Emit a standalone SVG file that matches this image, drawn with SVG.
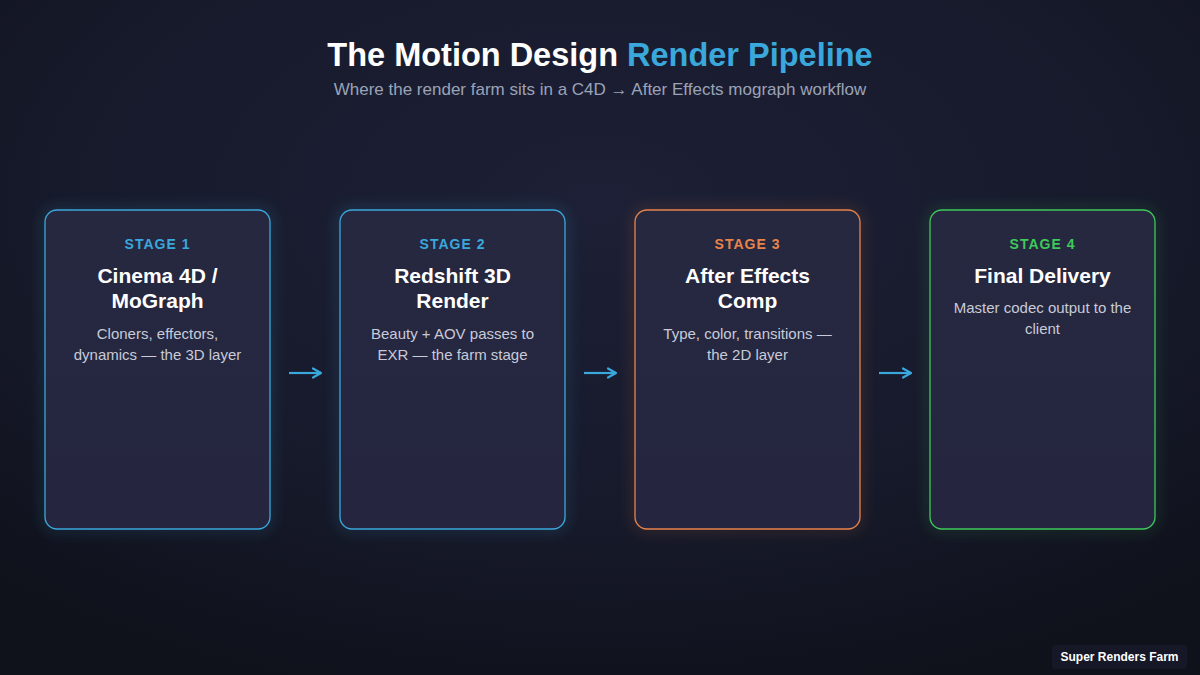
<svg xmlns="http://www.w3.org/2000/svg" width="1200" height="675" viewBox="0 0 1200 675">
  <defs>
    <radialGradient id="bg" cx="50%" cy="30%" r="75%">
      <stop offset="0" stop-color="#1d2036"/>
      <stop offset="0.6" stop-color="#171a2b"/>
      <stop offset="1" stop-color="#0f111b"/>
    </radialGradient>
    <linearGradient id="card" x1="0" y1="0" x2="0" y2="1">
      <stop offset="0" stop-color="#262840"/>
      <stop offset="1" stop-color="#25253f"/>
    </linearGradient>
    <filter id="glow" x="-20%" y="-20%" width="140%" height="140%">
      <feGaussianBlur stdDeviation="7"/>
    </filter>
    <marker id="ah" viewBox="0 0 12 12" refX="10" refY="6" markerWidth="12" markerHeight="12" markerUnits="userSpaceOnUse" orient="auto">
      <path d="M2,1.5 L10,6 L2,10.5" fill="none" stroke="#3aa8dc" stroke-width="2.2" stroke-linecap="round" stroke-linejoin="round"/>
    </marker>
    <style>
      .title{font-family:"Liberation Sans",Arial,sans-serif;font-weight:bold;font-size:32.5px;text-anchor:middle}
      .sub{font-family:"Liberation Sans",Arial,sans-serif;font-size:17px;fill:#9aa3b8;text-anchor:middle}
      .card{fill:url(#card);stroke-width:1.3}
      .stage{font-family:"Liberation Sans",Arial,sans-serif;font-weight:bold;font-size:14px;letter-spacing:1px;text-anchor:middle}
      .name{font-family:"Liberation Sans",Arial,sans-serif;font-weight:bold;font-size:21px;fill:#ffffff;text-anchor:middle}
      .desc{font-family:"Liberation Sans",Arial,sans-serif;font-size:15px;fill:#c8cbd8;text-anchor:middle}
      .conn{stroke:#3aa8dc;stroke-width:2.2;fill:none}
    </style>
  </defs>
  <rect width="1200" height="675" fill="url(#bg)"/>

  <g id="header">
    <text class="title" x="600" y="66"><tspan fill="#ffffff">The Motion Design </tspan><tspan fill="#3aa8dc">Render Pipeline</tspan></text>
    <text class="sub" x="600" y="95">Where the render farm sits in a C4D → After Effects mograph workflow</text>
  </g>

  <g id="stage1">
    <rect x="45" y="210" width="225" height="319" rx="12" fill="none" stroke="#3aa8dc" stroke-width="4" opacity="0.35" filter="url(#glow)"/>
    <rect class="card" x="45" y="210" width="225" height="319" rx="12" stroke="#3aa8dc"/>
    <text class="stage" x="157.5" y="249" fill="#3aa8dc">STAGE 1</text>
    <text class="name" x="157.5" y="283">Cinema 4D /</text>
    <text class="name" x="157.5" y="308">MoGraph</text>
    <text class="desc" x="157.5" y="339">Cloners, effectors,</text>
    <text class="desc" x="157.5" y="360">dynamics — the 3D layer</text>
  </g>

  <g id="stage2">
    <rect x="340" y="210" width="225" height="319" rx="12" fill="none" stroke="#3aa8dc" stroke-width="4" opacity="0.35" filter="url(#glow)"/>
    <rect class="card" x="340" y="210" width="225" height="319" rx="12" stroke="#3aa8dc"/>
    <text class="stage" x="452.5" y="249" fill="#3aa8dc">STAGE 2</text>
    <text class="name" x="452.5" y="283">Redshift 3D</text>
    <text class="name" x="452.5" y="308">Render</text>
    <text class="desc" x="452.5" y="339">Beauty + AOV passes to</text>
    <text class="desc" x="452.5" y="360">EXR — the farm stage</text>
  </g>

  <g id="stage3">
    <rect x="635" y="210" width="225" height="319" rx="12" fill="none" stroke="#e8834a" stroke-width="4" opacity="0.3" filter="url(#glow)"/>
    <rect class="card" x="635" y="210" width="225" height="319" rx="12" stroke="#e8834a"/>
    <text class="stage" x="747.5" y="249" fill="#e8834a">STAGE 3</text>
    <text class="name" x="747.5" y="283">After Effects</text>
    <text class="name" x="747.5" y="308">Comp</text>
    <text class="desc" x="747.5" y="339">Type, color, transitions —</text>
    <text class="desc" x="747.5" y="360">the 2D layer</text>
  </g>

  <g id="stage4">
    <rect x="930" y="210" width="225" height="319" rx="12" fill="none" stroke="#3ec95a" stroke-width="4" opacity="0.3" filter="url(#glow)"/>
    <rect class="card" x="930" y="210" width="225" height="319" rx="12" stroke="#3ec95a"/>
    <text class="stage" x="1042.5" y="249" fill="#3ec95a">STAGE 4</text>
    <text class="name" x="1042.5" y="283">Final Delivery</text>
    <text class="desc" x="1042.5" y="313">Master codec output to the</text>
    <text class="desc" x="1042.5" y="334">client</text>
  </g>

  <g id="connectors">
    <line class="conn" x1="289" y1="373" x2="321" y2="373" marker-end="url(#ah)"/>
    <line class="conn" x1="584" y1="373" x2="616" y2="373" marker-end="url(#ah)"/>
    <line class="conn" x1="879" y1="373" x2="911" y2="373" marker-end="url(#ah)"/>
  </g>

  <g id="badge">
    <rect x="1052" y="645" width="135" height="24" rx="3" fill="#161828"/>
    <text x="1119.5" y="661" font-family="'Liberation Sans',Arial,sans-serif" font-weight="bold" font-size="12" fill="#ffffff" text-anchor="middle">Super Renders Farm</text>
  </g>
</svg>
